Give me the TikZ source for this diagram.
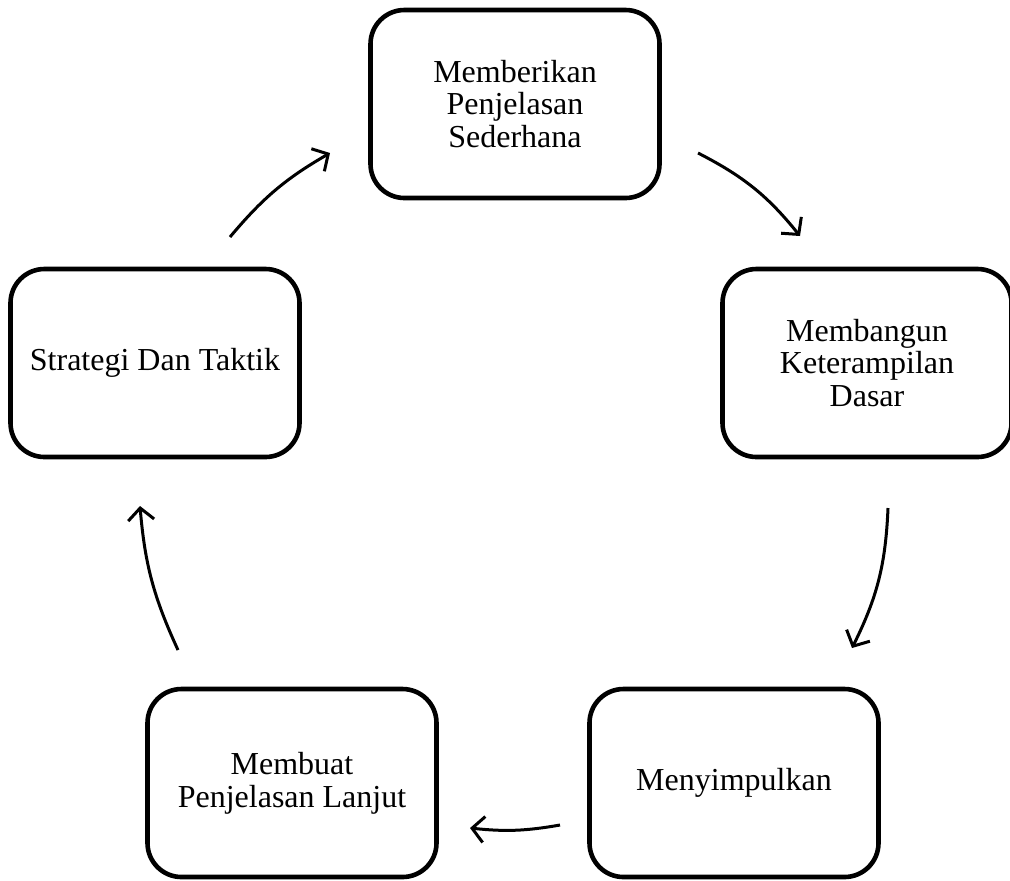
\documentclass[tikz,border=0pt]{standalone}
\usepackage{fontspec}
\setmainfont{Liberation Serif}
\usetikzlibrary{arrows.meta}

\begin{document}
\begin{tikzpicture}[x=0.5pt, y=-0.5pt,
    box/.style={draw, rounded corners=17pt, line width=2.3pt, minimum width=144.5pt, minimum height=94pt, align=center, font=\fontsize{16}{16.3}\selectfont},
    arr/.style={-{Straight Barb[length=6pt,width=13pt]}, line width=1.5pt}
]
    \useasboundingbox (0,0) rectangle (1010,880);

    \node[box] (sederhana) at (515,104) {Memberikan\\Penjelasan\\Sederhana};
    \node[box] (dasar) at (867,363) {Membangun\\Keterampilan\\Dasar};
    \node[box] (simpul) at (734,783) {Menyimpulkan};
    \node[box] (lanjut) at (292,783) {Membuat\\Penjelasan Lanjut};
    \node[box] (taktik) at (155,363) {Strategi Dan Taktik};

    % free ends of the arrows
    \coordinate (a1) at (698,153);  \coordinate (b1) at (800,236);
    \coordinate (a2) at (888,508);  \coordinate (b2) at (852,648);
    \coordinate (a3) at (560,825);  \coordinate (b3) at (470,828);
    \coordinate (a4) at (178,650);  \coordinate (b4) at (140,506);
    \coordinate (a5) at (230,237);  \coordinate (b5) at (330,153);

    \draw[arr] (a1) to[bend left=12] (b1);
    \draw[arr] (a2) to[bend left=12] (b2);
    \draw[arr] (a3) to[bend left=8] (b3);
    \draw[arr] (a4) to[bend left=10] (b4);
    \draw[arr] (a5) to[bend left=10] (b5);
\end{tikzpicture}
\end{document}
